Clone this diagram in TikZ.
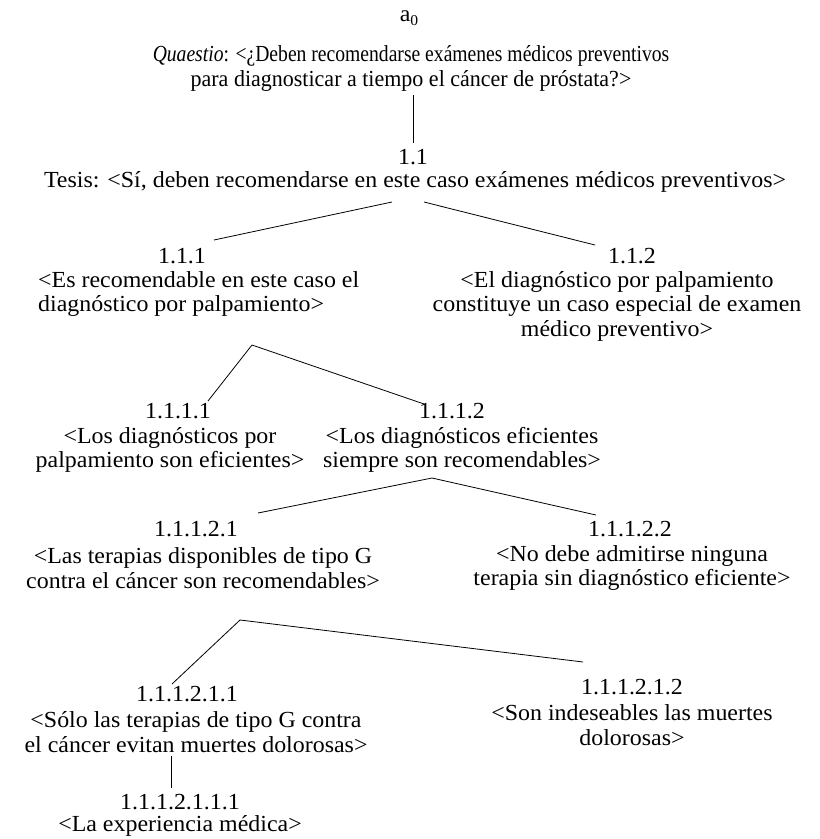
\documentclass[tikz,border=0pt]{standalone}
\usepackage{fontspec}
\setmainfont[FakeStretch=1.04]{Liberation Serif}
\begin{document}
\begin{tikzpicture}[x=1pt,y=-1pt,
  txt/.style={inner sep=0pt, font=\fontsize{23}{24.5}\selectfont, align=center},
  lbl/.style={inner sep=0pt, font=\fontsize{23}{24}\selectfont},
  conn/.style={line width=0.8pt}]
\useasboundingbox (0,0) rectangle (820,839);
% nodes
\node[lbl] (a0) at (409,18) {a\raisebox{-0.35ex}{\fontsize{15}{15}\selectfont 0}};
\node[txt] (q) at (411,68.5) {\scalebox{0.82}[1]{\textit{Quaestio}: <¿Deben recomendarse exámenes médicos preventivos}\\\scalebox{0.92}[1]{para diagnosticar a tiempo el cáncer de próstata?>}};
\node[lbl] (n11) at (413,157) {1.1};
\node[txt] (t11) at (415,182) {Tesis: <Sí, deben recomendarse en este caso exámenes médicos preventivos>};
\node[lbl] (n111) at (182,256) {1.1.1};
\node[txt, align=left, anchor=west] (t111) at (38,294) {<Es recomendable en este caso el\\diagnóstico por palpamiento>};
\node[lbl] (n112) at (632,256) {1.1.2};
\node[txt] (t112) at (617,306) {<El diagnóstico por palpamiento\\constituye un caso especial de examen\\médico preventivo>};
\node[lbl] (n1111) at (178,411) {1.1.1.1};
\node[txt] (t1111) at (170,450) {<Los diagnósticos por\\palpamiento son eficientes>};
\node[lbl] (n1112) at (452,411) {1.1.1.2};
\node[txt] (t1112) at (462,450) {<Los diagnósticos eficientes\\siempre son recomendables>};
\node[lbl] (n11121) at (196,529) {1.1.1.2.1};
\node[txt] (t11121) at (203,568) {<Las terapias disponibles de tipo G\\contra el cáncer son recomendables>};
\node[lbl] (n11122) at (630,529) {1.1.1.2.2};
\node[txt] (t11122) at (632,568) {<No debe admitirse ninguna\\terapia sin diagnóstico eficiente>};
\node[lbl] (n111211) at (187,694) {1.1.1.2.1.1};
\node[txt] (t111211) at (196,732) {<Sólo las terapias de tipo G contra\\el cáncer evitan muertes dolorosas>};
\node[lbl] (n111212) at (632,687) {1.1.1.2.1.2};
\node[txt] (t111212) at (632,725) {<Son indeseables las muertes\\dolorosas>};
\node[lbl] (n1112111) at (180,802) {1.1.1.2.1.1.1};
\node[txt] (t1112111) at (180,826) {<La experiencia médica>};
% connector ends
\coordinate (qb) at (413,95);
\coordinate (n11t) at (413,143);
\coordinate (t11l) at (392,202);
\coordinate (t11r) at (424,202);
\coordinate (n111e) at (214,240);
\coordinate (n112e) at (595,245);
\coordinate (t111b) at (252,345);
\coordinate (n1111e) at (208,401);
\coordinate (n1112e) at (424,404);
\coordinate (t1112b) at (432,478);
\coordinate (n11121e) at (258,513);
\coordinate (n11122e) at (596,515);
\coordinate (t11121b) at (240,620);
\coordinate (n111211e) at (172,684);
\coordinate (n111212e) at (583,662);
\coordinate (t111211b) at (171,756);
\coordinate (n1112111e) at (171,788);
% connectors
\draw[conn] (qb) -- (n11t);
\draw[conn] (t11l) -- (n111e);
\draw[conn] (t11r) -- (n112e);
\draw[conn] (t111b) -- (n1111e);
\draw[conn] (t111b) -- (n1112e);
\draw[conn] (t1112b) -- (n11121e);
\draw[conn] (t1112b) -- (n11122e);
\draw[conn] (t11121b) -- (n111211e);
\draw[conn] (t11121b) -- (n111212e);
\draw[conn] (t111211b) -- (n1112111e);
\end{tikzpicture}
\end{document}
